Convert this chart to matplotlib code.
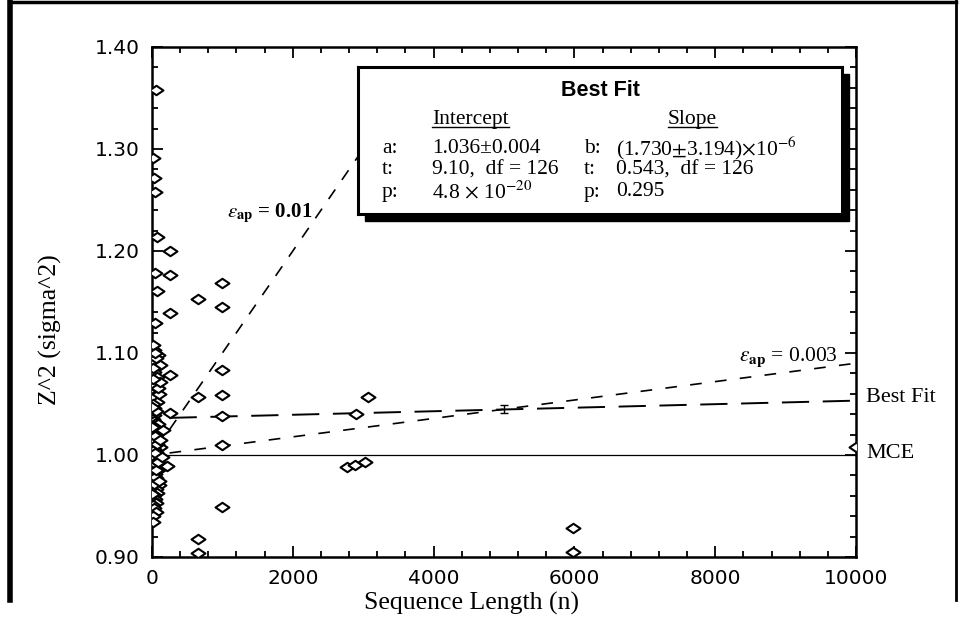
import matplotlib
matplotlib.use("Agg")
import matplotlib.pyplot as plt
from matplotlib.path import Path
from matplotlib.lines import Line2D
from matplotlib.patches import Rectangle
from matplotlib.ticker import MultipleLocator, FormatStrFormatter

plt.rcParams["mathtext.fontset"] = "stix"

W, H = 961, 629

# short sequences (n < 300)
short_n = [55, 20, 30, 40, 70, 250, 45, 250, 70, 250, 45,
           30, 90, 45, 110, 250, 30, 70, 30, 10, 70, 30, 250, 30,
           15, 50, 20, 60, 25, 100, 15, 50, 80, 120, 40, 20,
           10, 25, 50, 80, 15, 40, 100, 20, 60, 30, 10, 75, 45, 20, 120, 35,
           10, 55, 25, 90, 15, 40, 65, 220, 20, 50, 10, 30, 80, 15, 45, 25,
           60, 10, 35, 100, 20, 50, 15, 70, 30, 10, 45, 25, 60, 20, 35, 50,
           15, 10,
           5, 12, 8, 18, 22, 6, 28, 33, 38, 42, 48, 55, 65, 85, 95, 110, 140, 150, 5]
short_z = [1.358, 1.291, 1.272, 1.258, 1.214, 1.200, 1.178, 1.176, 1.161, 1.139, 1.129,
           1.103, 1.098, 1.091, 1.088, 1.078, 1.081, 1.076, 1.064, 1.057, 1.052, 1.046, 1.041, 1.039,
           1.108, 1.095, 1.085, 1.070, 1.068, 1.060, 1.050, 1.043, 1.066, 1.072, 1.100, 1.075,
           1.035, 1.033, 1.031, 1.030, 1.028, 1.026, 1.024, 1.022, 1.020, 1.018, 1.016, 1.014, 1.012, 1.010, 1.008, 1.006,
           1.004, 1.003, 1.001, 1.000, 0.998, 0.996, 0.995, 0.989, 0.993, 0.991, 0.989, 0.987, 0.985, 0.983, 0.981, 0.979,
           0.977, 0.975, 0.973, 0.971, 0.969, 0.967, 0.965, 0.963, 0.961, 0.959, 0.957, 0.955, 0.953, 0.951, 0.948, 0.944,
           0.940, 0.934,
           1.027, 1.013, 0.997, 0.986, 0.972, 0.962, 1.005, 0.992, 1.019, 0.978, 1.002, 0.985, 1.011, 0.993, 0.975, 1.015, 0.998, 1.025, 1.047]

# longer sequences
long_n = [660, 1000, 1000, 1000, 660, 1000, 1000, 1000, 1000, 660, 660,
          2900, 3070, 2770, 2880, 3030, 5980, 5980, 10000]
long_z = [1.153, 1.169, 1.145, 1.083, 1.057, 1.059, 1.038, 1.010, 0.949, 0.918, 0.904,
          1.040, 1.057, 0.988, 0.990, 0.993, 0.928, 0.905, 1.008]

# reference lines (end points)
mce_x, mce_y = [0, 10000], [1.0, 1.0]
fit_x, fit_y = [250, 10000], [1.0364, 1.0533]
eps003_x, eps003_y = [250, 10000], [1.002, 1.090]
eps01_x, eps01_y = [250, 3000], [1.025, 1.300]
err_x, err_y, err_e = [5000], [1.0447], [0.004]


def fx(px):
    return px / W


def fy(py):
    return 1 - py / H


fig = plt.figure(figsize=(W / 100, H / 100), dpi=100)
ax = fig.add_axes([fx(152), fy(557), (856 - 152) / W, (557 - 47) / H])

diamond = Path([(-1, 0), (0, 0.68), (1, 0), (0, -0.68), (-1, 0)],
               [Path.MOVETO, Path.LINETO, Path.LINETO, Path.LINETO, Path.CLOSEPOLY])

ax.plot(mce_x, mce_y, color="black", lw=0.9, zorder=2)
ax.plot(fit_x, fit_y, color="black", lw=1.4, ls=(0, (14, 7)), zorder=2)
ax.plot(eps003_x, eps003_y, color="black", lw=1.2, ls=(0, (7, 8)), zorder=2)
ax.plot(eps01_x, eps01_y, color="black", lw=1.2, ls=(0, (7, 7)), zorder=2)
ax.errorbar(err_x, err_y, yerr=err_e, fmt="none", ecolor="black", elinewidth=1.0,
            capsize=3, zorder=2)

for xs, ys in [(short_n, short_z), (long_n, long_z)]:
    ax.plot(xs, ys, ls="none", marker=diamond, markersize=10, mfc="white",
            mec="black", mew=1.5, zorder=3)

ax.set_xlim(0, 10000)
ax.set_ylim(0.90, 1.40)
ax.xaxis.set_major_locator(MultipleLocator(2000))
ax.xaxis.set_minor_locator(MultipleLocator(400))
ax.yaxis.set_major_locator(MultipleLocator(0.1))
ax.yaxis.set_minor_locator(MultipleLocator(0.02))
ax.yaxis.set_major_formatter(FormatStrFormatter("%.2f"))
ax.tick_params(which="both", direction="in", top=True, right=True, width=1.3)
ax.tick_params(which="major", length=8, labelsize=14.5, pad=9)
ax.tick_params(which="minor", length=4)
for s in ax.spines.values():
    s.set_linewidth(1.8)

serif = "Liberation Serif"
fig.text(fx(472), fy(603), "Sequence Length (n)", family=serif, fontsize=18.5,
         ha="center", va="center")
fig.text(fx(50), fy(330), "Z^2 (sigma^2)", family=serif, fontsize=18.5,
         ha="center", va="center", rotation=90)
fig.text(fx(866), fy(398), "Best Fit", family=serif, fontsize=16, ha="left", va="center")
fig.text(fx(866), fy(453), "MCE", family=serif, fontsize=16, ha="left", va="center")
fig.text(fx(838), fy(357), r"$\varepsilon_{\mathbf{ap}}$ = 0.003", family=serif,
         fontsize=15.5, ha="right", va="center", zorder=1)
fig.text(fx(312), fy(213), r"$\varepsilon_{\mathbf{ap}}$ = 0.01", family=serif,
         fontsize=15, ha="right", va="center", weight="bold")

# fit summary box with drop shadow
bx0, by0, bx1, by1 = 358, 67, 842, 214
fig.patches.append(Rectangle((fx(bx0 + 7), fy(by1 + 7)), (bx1 - bx0) / W, (by1 - by0) / H,
                             transform=fig.transFigure, color="black", zorder=1))
box = fig.add_axes([fx(bx0), fy(by1), (bx1 - bx0) / W, (by1 - by0) / H], zorder=2)
box.set_xticks([])
box.set_yticks([])
for s in box.spines.values():
    s.set_linewidth(2.2)

fig.text(fx(600), fy(90), "Best Fit", family="Liberation Sans", weight="bold",
         fontsize=15.5, ha="center", va="center", zorder=5)
heads = [fig.text(fx(432), fy(119), "Intercept", family=serif, fontsize=15.5,
                  va="center", zorder=5),
         fig.text(fx(668), fy(119), "Slope", family=serif, fontsize=15.5,
                  va="center", zorder=5)]
rows = [("a:", "1.036\u00b10.004", "b:", r"(1.730$\pm$3.194)$\times$10$^{-6}$"),
        ("t:", "9.10,  df = 126", "t:", "0.543,  df = 126"),
        ("p:", r"4.8 $\times$ 10$^{-20}$", "p:", "0.295")]
for i, (l1, v1, l2, v2) in enumerate(rows):
    yy = fy(148 + 22 * i)
    for xx, s in [(382, l1), (432, v1), (584, l2), (616, v2)]:
        fig.text(fx(xx), yy, s, family=serif, fontsize=15.5, va="center", zorder=5)

fig.canvas.draw()
r = fig.canvas.get_renderer()
for t in heads:
    bb = t.get_window_extent(r).transformed(fig.transFigure.inverted())
    fig.lines.append(Line2D([bb.x0, bb.x1], [bb.y0 + 0.002, bb.y0 + 0.002],
                            transform=fig.transFigure, color="black", lw=1.0, zorder=5))

# page frame
for xs, ys, lw in [([fx(10), fx(10)], [fy(0), fy(600)], 4),
                   ([fx(10), fx(956)], [fy(2), fy(2)], 2.5),
                   ([fx(956), fx(956)], [fy(0), fy(600)], 2)]:
    fig.lines.append(Line2D(xs, ys, transform=fig.transFigure, color="black", lw=lw))

fig.savefig("out.png", dpi=100)
